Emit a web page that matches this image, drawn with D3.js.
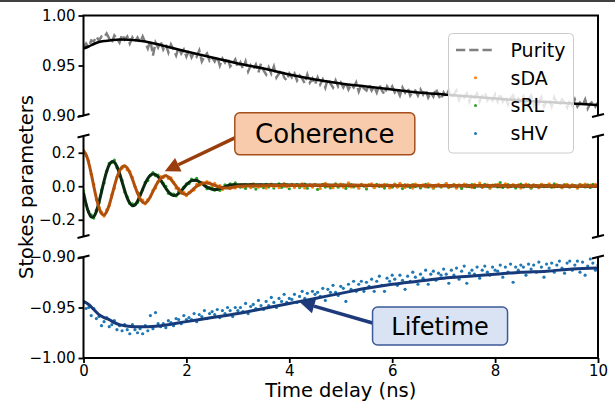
<!DOCTYPE html>
<html lang="en">
<head>
    <meta charset="UTF-8">
    <title>Stokes parameters vs time delay</title>
    <script src="https://d3js.org/d3.v7.min.js"></script>
    <style>
        body { margin: 0; background: #fff; }
        svg { display: block; }
        text { font-family: "DejaVu Sans", sans-serif; fill: #000; }
    </style>
</head>
<body>
    <svg></svg>
    <script>
        // measured traces are sampled every 0.05 ns from 0 to 10 ns
        const dt = 0.05;

        const purity = [
            0.968,0.972,0.968,0.975,0.974,0.979,0.975,0.979,0.978,0.982,0.977,
            0.973,0.980,0.977,0.973,0.981,0.976,0.979,0.972,0.978,0.974,
            0.978,0.973,0.979,0.973,0.967,0.975,0.960,0.973,0.968,0.974,
            0.966,0.971,0.963,0.971,0.966,0.960,0.968,0.962,0.966,0.959,
            0.965,0.958,0.963,0.959,0.965,0.954,0.959,0.962,0.955,0.958,
            0.954,0.959,0.950,0.957,0.953,0.958,0.949,0.952,0.956,0.948,
            0.953,0.947,0.954,0.944,0.950,0.946,0.951,0.943,0.952,0.945,
            0.941,0.948,0.942,0.949,0.938,0.942,0.946,0.938,0.935,0.942,
            0.938,0.942,0.935,0.940,0.937,0.932,0.941,0.933,0.937,0.931,
            0.938,0.931,0.936,0.928,0.937,0.932,0.928,0.935,0.929,0.933,
            0.928,0.933,0.926,0.931,0.928,0.933,0.924,0.931,0.927,0.925,
            0.931,0.925,0.929,0.923,0.931,0.925,0.921,0.929,0.925,0.929,
            0.923,0.926,0.920,0.928,0.923,0.928,0.920,0.924,0.925,0.920,
            0.926,0.921,0.926,0.918,0.923,0.919,0.927,0.920,0.916,0.923,
            0.919,0.925,0.917,0.921,0.925,0.916,0.922,0.918,0.922,0.914,
            0.922,0.918,0.922,0.914,0.920,0.923,0.915,0.918,0.915,0.921,
            0.914,0.922,0.914,0.919,0.911,0.917,0.920,0.912,0.917,0.914,
            0.919,0.912,0.916,0.920,0.910,0.916,0.912,0.918,0.909,0.915,
            0.916,0.909,0.918,0.912,0.910,0.916,0.913,0.908,0.915,0.910,
            0.916,0.909,0.913,0.910,0.916,0.907,0.912,0.914,0.909,0.913
        ];
        const purityFitT = [0,0.1,0.2,0.3,0.4,0.5,0.7,0.9,1.2,1.5,2,2.5,3,3.5,4,4.5,5,5.5,6,6.5,7,7.5,8,8.5,9,9.5,10];
        const purityFit = [0.967,0.969,0.9715,0.9735,0.9745,0.975,0.976,0.9757,0.974,0.9705,0.964,0.958,0.952,0.947,0.941,0.936,0.932,0.929,0.926,0.923,0.921,0.919,0.917,0.915,0.9135,0.912,0.9105];

        const sDA = [
            0.215,0.181,0.151,0.072,0.012,-0.081,-0.125,-0.155,-0.178,-0.141,
            -0.116,-0.050,-0.012,0.055,0.099,0.108,0.122,0.098,0.087,0.053,
            -0.002,-0.037,-0.083,-0.083,-0.105,-0.079,-0.063,-0.025,-0.010,0.029,
            0.057,0.052,0.064,0.047,0.050,0.025,-0.012,-0.013,-0.039,-0.036,
            -0.056,-0.037,-0.027,-0.022,0.012,0.006,0.022,0.009,0.028,0.020,
            0.005,0.017,-0.002,0.004,-0.020,-0.007,-0.004,-0.015,0.004,-0.011,
            0.002,
            0.008,-0.004,0.012,0.003,-0.009,0.015,0.001,-0.006,0.010,0.004,
            -0.011,0.007,0.013,-0.002,0.005,-0.008,0.009,0.016,-0.003,0.002,
            0.011,-0.007,0.006,0.000,0.014,-0.010,0.004,0.009,-0.005,0.012,
            0.003,-0.013,0.008,0.017,-0.001,0.006,-0.009,0.010,0.002,0.013,
            -0.006,0.005,0.021,-0.004,0.008,0.001,-0.012,0.011,0.004,-0.003,
            0.009,0.015,-0.008,0.002,0.007,-0.002,0.012,0.005,-0.010,0.003,
            0.010,-0.005,0.018,0.001,-0.007,0.008,0.004,-0.011,0.013,0.006,
            -0.001,0.009,-0.004,0.014,0.002,-0.009,0.007,0.011,-0.003,0.005,
            0.016,-0.006,0.003,0.010,-0.012,0.008,0.001,0.013,-0.002,0.006,
            -0.008,0.011,0.004,0.019,-0.005,0.002,0.009,-0.010,0.007,0.003,
            0.012,-0.004,0.006,0.015,-0.007,0.001,0.010,-0.003,0.008,-0.011,
            0.005,0.013,0.002,-0.006,0.009,0.004,-0.009,0.011,0.007,-0.002,
            0.014,0.003,-0.005,0.010,0.001,-0.008,0.006,0.012,-0.004,0.008,
            0.002,-0.010,0.009,0.005,0.013,-0.003,0.007,0.000,0.011,0.004
        ];
        const sRL = [
            -0.027,-0.111,-0.152,-0.171,-0.190,-0.143,-0.100,-0.022,0.020,0.090,
            0.136,0.142,0.156,0.111,0.080,0.035,-0.035,-0.064,-0.103,-0.105,
            -0.108,-0.097,-0.044,-0.022,0.024,0.035,0.066,0.082,0.064,0.067,
            0.034,0.017,0.000,-0.042,-0.046,-0.047,-0.058,-0.032,-0.039,-0.005,
            0.015,0.016,0.043,0.035,0.047,0.019,0.020,0.014,-0.015,-0.008,
            -0.007,-0.024,-0.012,-0.025,-0.007,0.009,-0.003,0.015,0.006,0.020,
            0.000,
            -0.006,0.009,-0.013,0.004,0.011,-0.002,-0.017,0.007,0.001,-0.009,
            0.012,-0.004,0.006,-0.011,0.003,0.014,-0.007,0.000,0.008,-0.015,
            0.005,-0.003,0.010,-0.008,0.002,0.013,-0.012,0.006,-0.001,0.009,
            -0.019,0.004,0.011,-0.005,0.007,-0.010,0.002,0.015,-0.006,0.003,
            0.008,-0.013,0.001,0.010,-0.004,0.006,-0.009,0.012,0.000,-0.016,
            0.007,0.003,-0.008,0.011,-0.002,0.005,-0.011,0.009,0.002,-0.006,
            0.013,-0.003,0.004,-0.014,0.008,0.001,-0.007,0.010,-0.001,0.006,
            -0.010,0.003,0.012,-0.005,0.007,-0.012,0.002,0.009,-0.004,0.005,
            0.016,-0.008,0.001,0.011,-0.003,0.006,-0.013,0.004,0.008,-0.002,
            0.010,-0.009,0.003,0.007,-0.006,0.012,0.000,-0.011,0.005,0.009,
            -0.004,0.022,-0.007,0.003,0.010,-0.002,0.006,-0.010,0.004,0.013,
            -0.005,0.001,0.008,-0.012,0.007,0.002,-0.008,0.011,-0.003,0.005,
            0.009,-0.006,0.014,-0.001,0.004,-0.009,0.010,0.002,-0.005,0.007,
            0.003,-0.010,0.012,0.006,-0.004,0.008,-0.007,0.011,0.001,0.004
        ];
        // fits of the coherence traces, same 0.05 ns grid up to 3 ns, then flat to 10 ns
        const sDAFit = [
            0.210,0.189,0.141,0.075,0.000,-0.071,-0.127,-0.163,-0.172,-0.152,
            -0.112,-0.057,0.000,0.052,0.090,0.115,0.121,0.109,0.081,0.043,
            0.000,-0.041,-0.074,-0.095,-0.100,-0.087,-0.062,-0.031,0.000,0.026,
            0.046,0.058,0.062,0.055,0.041,0.021,0.000,-0.020,-0.036,-0.046,
            -0.049,-0.042,-0.028,-0.013,0.000,0.010,0.016,0.019,0.020,0.017,
            0.011,0.006,0.000,-0.005,-0.009,-0.011,-0.011,-0.010,-0.006,-0.003,
            0.000,0.000
        ];
        const sRLFit = [
            -0.037,-0.105,-0.156,-0.183,-0.181,-0.150,-0.097,-0.033,0.032,0.088,
            0.128,0.147,0.143,0.118,0.077,0.026,-0.025,-0.070,-0.101,-0.116,
            -0.112,-0.089,-0.056,-0.018,0.017,0.046,0.065,0.073,0.070,0.057,
            0.037,0.012,-0.012,-0.033,-0.048,-0.055,-0.053,-0.043,-0.027,-0.009,
            0.009,0.023,0.033,0.036,0.034,0.027,0.017,0.005,-0.005,-0.013,
            -0.018,-0.020,-0.019,-0.014,-0.009,-0.003,0.003,0.007,0.009,0.010,
            0.009,0.000
        ];

        const sHV = [
            -0.945,-0.951,-0.950,-0.958,-0.951,-0.961,-0.959,-0.968,-0.964,-0.960,-0.969,
            -0.967,-0.963,-0.972,-0.968,-0.973,-0.967,-0.972,-0.976,-0.967,-0.972,
            -0.975,-0.971,-0.976,-0.968,-0.973,-0.958,-0.971,-0.955,-0.966,-0.969,
            -0.966,-0.970,-0.963,-0.965,-0.968,-0.961,-0.962,-0.966,-0.958,-0.962,
            -0.960,-0.962,-0.956,-0.964,-0.957,-0.959,-0.953,-0.961,-0.956,-0.954,
            -0.957,-0.952,-0.960,-0.953,-0.956,-0.950,-0.953,-0.959,-0.950,-0.953,
            -0.950,-0.954,-0.946,-0.956,-0.949,-0.947,-0.951,-0.943,-0.948,-0.952,
            -0.944,-0.948,-0.940,-0.945,-0.950,-0.941,-0.944,-0.937,-0.945,-0.941,
            -0.942,-0.937,-0.945,-0.939,-0.934,-0.941,-0.936,-0.945,-0.934,-0.937,
            -0.935,-0.939,-0.931,-0.943,-0.932,-0.935,-0.928,-0.935,-0.938,-0.929,
            -0.931,-0.944,-0.927,-0.932,-0.924,-0.934,-0.927,-0.924,-0.934,-0.925,
            -0.929,-0.922,-0.934,-0.924,-0.919,-0.928,-0.934,-0.921,-0.924,-0.918,
            -0.922,-0.928,-0.918,-0.923,-0.932,-0.919,-0.924,-0.915,-0.920,-0.927,
            -0.917,-0.921,-0.913,-0.927,-0.917,-0.914,-0.923,-0.916,-0.918,-0.912,
            -0.917,-0.926,-0.913,-0.918,-0.911,-0.922,-0.914,-0.909,-0.926,-0.916,
            -0.913,-0.917,-0.910,-0.921,-0.913,-0.909,-0.915,-0.918,-0.910,-0.913,
            -0.914,-0.908,-0.920,-0.910,-0.915,-0.907,-0.925,-0.910,-0.913,-0.908,
            -0.910,-0.918,-0.907,-0.912,-0.908,-0.915,-0.905,-0.910,-0.920,-0.907,
            -0.911,-0.906,-0.915,-0.908,-0.904,-0.911,-0.916,-0.906,-0.904,-0.913,
            -0.908,-0.904,-0.915,-0.905,-0.918,-0.909,-0.902,-0.906,-0.913,-0.908
        ];
        const sHVFitT = [0,0.1,0.2,0.3,0.4,0.5,0.6,0.7,0.8,1.0,1.2,1.5,2,2.5,3,3.5,4,4.5,5,5.5,6,6.5,7,7.5,8,8.5,9,9.5,10];
        const sHVFit = [-0.944,-0.947,-0.952,-0.957,-0.960,-0.962,-0.965,-0.967,-0.968,-0.969,-0.969,-0.968,-0.964,-0.960,-0.956,-0.951,-0.946,-0.941,-0.936,-0.931,-0.927,-0.924,-0.921,-0.919,-0.917,-0.915,-0.914,-0.912,-0.911];

        const xTicks = [0, 2, 4, 6, 8, 10];
        const topTicks = [0.90, 0.95, 1.00];
        const midTicks = [-0.2, 0.0, 0.2];
        const botTicks = [-1.00, -0.95, -0.90];

        const width = 615, height = 405;
        const svg = d3.select("svg").attr("width", width).attr("height", height);

        const x = d3.scaleLinear().domain([0, 10]).range([83.5, 598]);
        const yTop = d3.scaleLinear().domain([0.90, 1.00]).range([115.5, 15.5]);
        const yMid = d3.scaleLinear().domain([-0.3, 0.3]).range([236.5, 136]);
        const yBot = d3.scaleLinear().domain([-1.00, -0.90]).range([358, 257]);

        const tOf = (d, i) => i * dt;
        const fitT = d3.range(61).map(i => i * dt).concat([10]);

        // thin rule along the very top of the figure
        svg.append("line").attr("x1", 0).attr("x2", width).attr("y1", 1).attr("y2", 1)
            .attr("stroke", "#000").attr("stroke-width", 1.5);

        function panel(name, y) {
            const [y0, y1] = y.range();
            svg.append("clipPath").attr("id", "clip-" + name)
                .append("rect")
                .attr("x", x.range()[0]).attr("y", Math.min(y0, y1))
                .attr("width", x.range()[1] - x.range()[0])
                .attr("height", Math.abs(y0 - y1));
            return svg.append("g").attr("clip-path", `url(#clip-${name})`);
        }

        function lineFor(y, ts, curve) {
            return d3.line()
                .x((d, i) => x(ts ? ts[i] : tOf(d, i)))
                .y(d => y(d))
                .curve(curve || d3.curveLinear);
        }

        function dots(g, y, values, color) {
            g.append("g").selectAll("circle")
                .data(values)
                .join("circle")
                .attr("cx", (d, i) => x(tOf(d, i)))
                .attr("cy", d => y(d))
                .attr("r", 1.6)
                .attr("fill", color);
        }

        // top: purity
        const gTop = panel("top", yTop);
        gTop.append("path")
            .attr("d", lineFor(yTop)(purity))
            .attr("fill", "none").attr("stroke", "#808080")
            .attr("stroke-width", 2.5).attr("stroke-dasharray", "9.25,4");
        gTop.append("path")
            .attr("d", lineFor(yTop, purityFitT, d3.curveMonotoneX)(purityFit))
            .attr("fill", "none").attr("stroke", "#000").attr("stroke-width", 2.5);

        // middle: coherence
        const gMid = panel("mid", yMid);
        dots(gMid, yMid, sRL, "#2ca02c");
        dots(gMid, yMid, sDA, "#ff7f0e");
        gMid.append("path")
            .attr("d", lineFor(yMid, fitT, d3.curveCatmullRom)(sRLFit))
            .attr("fill", "none").attr("stroke", "#0b2b10").attr("stroke-width", 3);
        gMid.append("path")
            .attr("d", lineFor(yMid, fitT, d3.curveCatmullRom)(sDAFit))
            .attr("fill", "none").attr("stroke", "#b0500a").attr("stroke-width", 3);

        // bottom: lifetime
        const gBot = panel("bot", yBot);
        dots(gBot, yBot, sHV, "#1f77b4");
        gBot.append("path")
            .attr("d", lineFor(yBot, sHVFitT, d3.curveMonotoneX)(sHVFit))
            .attr("fill", "none").attr("stroke", "#173b7a").attr("stroke-width", 3);

        // y axes
        function yAxis(y, ticks, fmt) {
            svg.append("g")
                .attr("transform", `translate(${x.range()[0]},0)`)
                .call(d3.axisLeft(y).tickValues(ticks).tickFormat(d3.format(fmt)).tickSize(5).tickPadding(3))
                .call(g => g.select(".domain").remove())
                .call(g => g.selectAll("line").attr("stroke-width", 1.8))
                .call(g => g.selectAll("text").attr("font-size", 15).attr("font-family", "DejaVu Sans"));
        }
        yAxis(yTop, topTicks, ".2f");
        yAxis(yMid, midTicks, ".1f");
        yAxis(yBot, botTicks, ".2f");

        svg.append("g")
            .attr("transform", `translate(0,${yBot.range()[0]})`)
            .call(d3.axisBottom(x).tickValues(xTicks).tickFormat(d3.format("d")).tickSize(5).tickPadding(2))
            .call(g => g.select(".domain").remove())
            .call(g => g.selectAll("line").attr("stroke-width", 1.8))
            .call(g => g.selectAll("text").attr("font-size", 15).attr("font-family", "DejaVu Sans"));

        // spines
        const xl = x.range()[0], xr = x.range()[1];
        const spine = svg.append("g").attr("fill", "none").attr("stroke", "#000")
            .attr("stroke-width", 2).attr("stroke-linejoin", "miter");
        spine.append("path").attr("d", `M${xl},${yTop.range()[0]}V${yTop.range()[1]}H${xr}V${yTop.range()[0]}`);
        spine.append("path").attr("d", `M${xl},${yMid.range()[0]}V${yMid.range()[1]}M${xr},${yMid.range()[0]}V${yMid.range()[1]}`);
        spine.append("path").attr("d", `M${xl},${yBot.range()[1]}V${yBot.range()[0]}H${xr}V${yBot.range()[1]}`);

        // break marks at the cut ends of the spines
        const cuts = [yTop.range()[0], yMid.range()[1], yMid.range()[0], yBot.range()[1]];
        cuts.forEach(cy => {
            [xl, xr].forEach(cx => {
                spine.append("line")
                    .attr("x1", cx - 6).attr("y1", cy + 1.5)
                    .attr("x2", cx + 6).attr("y2", cy - 1.5);
            });
        });

        // axis labels
        svg.append("text")
            .attr("x", (xl + xr) / 2).attr("y", 397)
            .attr("text-anchor", "middle").attr("font-size", 19.5)
            .text("Time delay (ns)");
        svg.append("text")
            .attr("transform", "translate(33,187) rotate(-90)")
            .attr("text-anchor", "middle").attr("font-size", 19.5)
            .text("Stokes parameters");

        // annotations
        function annotate(opts) {
            const tip = [x(opts.at[0]), opts.y(opts.at[1])];
            const c = [x(opts.text[0]), opts.y(opts.text[1])];
            const tail = [c[0] - opts.w / 2, c[1] + opts.tailDy];
            const ang = Math.atan2(tip[1] - tail[1], tip[0] - tail[0]);
            const headLen = 15, headW = 7.5;
            const base = [tip[0] - headLen * Math.cos(ang), tip[1] - headLen * Math.sin(ang)];
            const g = svg.append("g");
            g.append("line")
                .attr("x1", tail[0]).attr("y1", tail[1])
                .attr("x2", base[0]).attr("y2", base[1])
                .attr("stroke", opts.arrow).attr("stroke-width", 3.5);
            const nx = -Math.sin(ang), ny = Math.cos(ang);
            g.append("path")
                .attr("d", `M${tip[0]},${tip[1]}L${base[0] + nx * headW},${base[1] + ny * headW}L${base[0] - nx * headW},${base[1] - ny * headW}Z`)
                .attr("fill", opts.arrow);
            g.append("rect")
                .attr("x", c[0] - opts.w / 2).attr("y", c[1] - opts.h / 2)
                .attr("width", opts.w).attr("height", opts.h).attr("rx", 5)
                .attr("fill", opts.fill).attr("stroke", opts.stroke).attr("stroke-width", 1.5);
            g.append("text")
                .attr("x", c[0]).attr("y", c[1]).attr("dy", "0.36em")
                .attr("text-anchor", "middle").attr("font-size", opts.size)
                .text(opts.label);
        }
        annotate({ label: "Coherence", y: yMid, at: [1.58, 0.09], text: [4.69, 0.313], w: 180, h: 42, tailDy: 4,
            size: 26, fill: "#f8cbad", stroke: "#a5501c", arrow: "#9a3d0c" });
        annotate({ label: "Lifetime", y: yBot, at: [4.2, -0.9445], text: [6.93, -0.9683], w: 135, h: 38, tailDy: -3,
            size: 24, fill: "#dae3f3", stroke: "#3b5a98", arrow: "#1f3a7a" });

        // legend
        const legendItems = [
            { label: "Purity", kind: "line", color: "#808080" },
            { label: "sDA", kind: "dot", color: "#ff7f0e" },
            { label: "sRL", kind: "dot", color: "#2ca02c" },
            { label: "sHV", kind: "dot", color: "#1f77b4" }
        ];
        const legend = svg.append("g").attr("transform", "translate(448.5,33.5)");
        legend.append("rect")
            .attr("width", 125).attr("height", 119.5).attr("rx", 4)
            .attr("fill", "#fff").attr("fill-opacity", 0.8)
            .attr("stroke", "#cccccc").attr("stroke-width", 1);
        legendItems.forEach((item, i) => {
            const ly = 16.5 + i * 27.8;
            if (item.kind === "line") {
                legend.append("line")
                    .attr("x1", 7.5).attr("x2", 46.5).attr("y1", ly).attr("y2", ly)
                    .attr("stroke", item.color).attr("stroke-width", 2.5)
                    .attr("stroke-dasharray", "9.25,4");
            } else {
                legend.append("circle").attr("cx", 27).attr("cy", ly).attr("r", 1.5).attr("fill", item.color);
            }
            legend.append("text")
                .attr("x", 62).attr("y", ly).attr("dy", "0.36em")
                .attr("font-size", 19).text(item.label);
        });
    </script>
</body>
</html>
